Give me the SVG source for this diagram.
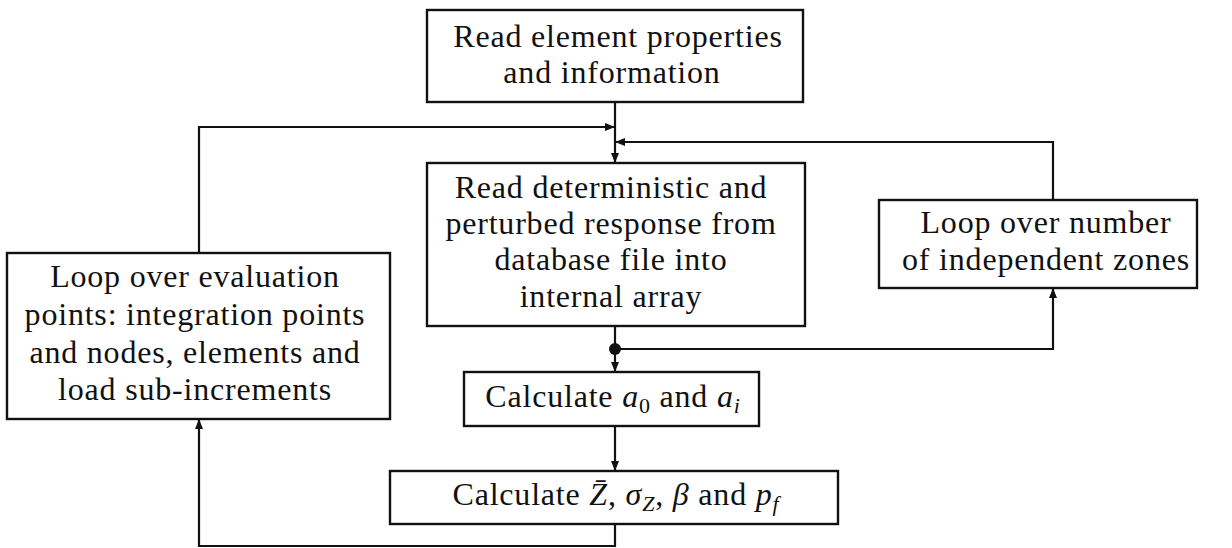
<svg xmlns="http://www.w3.org/2000/svg" width="1232" height="548" viewBox="0 0 1232 548">
  <style>
    .box { fill: #ffffff; stroke: #111111; stroke-width: 2.4; }
    .lbl { font-family: "Liberation Serif", "DejaVu Serif", serif; font-size: 32px; letter-spacing: 0.8px; fill: #111111; text-anchor: middle; }
    .m { font-style: italic; }
    .sub { font-size: 22px; }
    .wire { fill: none; stroke: #111111; stroke-width: 2.2; }
  </style>
  <defs>
    <marker id="arrow" viewBox="0 0 10 8" refX="10" refY="4" markerWidth="10" markerHeight="8" markerUnits="userSpaceOnUse" orient="auto">
      <path d="M0,0 L10,4 L0,8 Z" fill="#111111"/>
    </marker>
  </defs>
  <rect width="1232" height="548" fill="#ffffff"/>

  <g id="connectors">
    <path class="wire" d="M615,102 V163" marker-end="url(#arrow)"/>
    <path class="wire" d="M199,253 V127 H615" marker-end="url(#arrow)"/>
    <path class="wire" d="M1053,200 V142 H615" marker-end="url(#arrow)"/>
    <path class="wire" d="M615,326 V372" marker-end="url(#arrow)"/>
    <path class="wire" d="M615,349 H1053 V288" marker-end="url(#arrow)"/>
    <circle cx="615" cy="349" r="6" fill="#111111"/>
    <path class="wire" d="M615,426 V471" marker-end="url(#arrow)"/>
    <path class="wire" d="M615,524 V546 H199 V419" marker-end="url(#arrow)"/>
  </g>

  <g id="read-element">
    <rect class="box" x="427" y="10" width="376" height="92"/>
    <text class="lbl" x="618" y="47">Read element properties</text>
    <text class="lbl" x="612" y="83">and information</text>
  </g>

  <g id="read-response">
    <rect class="box" x="427" y="163" width="378" height="163"/>
    <text class="lbl" x="611" y="198">Read deterministic and</text>
    <text class="lbl" x="611" y="234">perturbed response from</text>
    <text class="lbl" x="611" y="270">database file into</text>
    <text class="lbl" x="611" y="307">internal array</text>
  </g>

  <g id="loop-zones">
    <rect class="box" x="879" y="200" width="318" height="88"/>
    <text class="lbl" x="1046" y="233">Loop over number</text>
    <text class="lbl" x="1046" y="270">of independent zones</text>
  </g>

  <g id="loop-points">
    <rect class="box" x="7" y="253" width="383" height="166"/>
    <text class="lbl" x="195" y="287">Loop over evaluation</text>
    <text class="lbl" x="195" y="325">points: integration points</text>
    <text class="lbl" x="195" y="363">and nodes, elements and</text>
    <text class="lbl" x="195" y="400">load sub-increments</text>
  </g>

  <g id="calc-a">
    <rect class="box" x="464" y="372" width="295" height="54"/>
    <text class="lbl" x="613" y="407">Calculate <tspan class="m">a</tspan><tspan class="sub" dy="6">0</tspan><tspan dy="-6"> and </tspan><tspan class="m">a</tspan><tspan class="sub m" dy="6">i</tspan></text>
  </g>

  <g id="calc-z">
    <rect class="box" x="390" y="471" width="448" height="53"/>
    <text class="lbl" x="616" y="505">Calculate <tspan class="m">Z̄</tspan>, <tspan class="m">σ</tspan><tspan class="sub m" dy="6">Z</tspan><tspan dy="-6">, </tspan><tspan class="m">β</tspan> and <tspan class="m">p</tspan><tspan class="sub m" dy="6">f</tspan></text>
  </g>
</svg>
